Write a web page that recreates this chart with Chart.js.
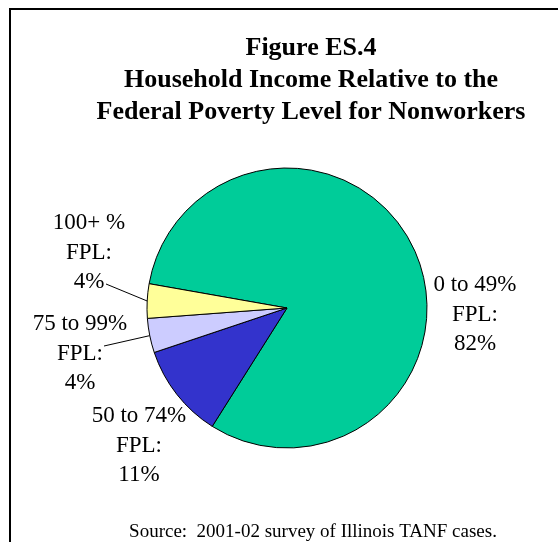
<!DOCTYPE html>
<html>
<head>
<meta charset="utf-8">
<script src="https://cdn.jsdelivr.net/npm/chart.js@4.4.0/dist/chart.umd.min.js"></script>
<style>
  html, body { margin: 0; padding: 0; background: #fff; }
  #wrap { width: 558px; height: 542px; }
</style>
</head>
<body>
<div id="wrap"><canvas id="fpl"></canvas></div>
<script>
// Dati: reddito familiare rispetto alla soglia di povertà federale
const categories = ['0 to 49%', '50 to 74%', '75 to 99%', '100+ %'];
const shares = [82, 11, 4, 4];
const sliceColors = ['#00CC99', '#3333CC', '#CCCCFF', '#FFFF99'];
const titleLines = ['Figure ES.4', 'Household Income Relative to the', 'Federal Poverty Level for Nonworkers'];
const sourceNote = 'Source:  2001-02 survey of Illinois TANF cases.';

// Posizione delle etichette (centro x, baseline prima riga) e attacco della linea guida
const labelPos = [
    { x: 475, y: 291 },
    { x: 139, y: 422 },
    { x: 80, y: 330, lead: { x: 104, y: 346 } },
    { x: 89, y: 229, lead: { x: 106, y: 284 } }
];

const serif = '"Liberation Serif", "Times New Roman", serif';

const decorPlugin = {
    id: 'decor',
    beforeDraw(chart) {
        const ctx = chart.ctx;
        ctx.save();
        ctx.fillStyle = '#fff';
        ctx.fillRect(0, 0, chart.width, chart.height);
        // cornice: solo lato superiore e sinistro
        ctx.strokeStyle = '#000';
        ctx.lineWidth = 2;
        ctx.beginPath();
        ctx.moveTo(558, 9);
        ctx.lineTo(10, 9);
        ctx.lineTo(10, 542);
        ctx.stroke();
        ctx.restore();
    },
    afterDraw(chart) {
        const ctx = chart.ctx;
        const arcs = chart.getDatasetMeta(0).data;
        ctx.save();
        ctx.fillStyle = '#000';
        ctx.textAlign = 'center';
        ctx.textBaseline = 'alphabetic';

        ctx.font = 'bold 26px ' + serif;
        titleLines.forEach((t, i) => ctx.fillText(t, 311, 55 + i * 32));

        ctx.font = '19px ' + serif;
        ctx.fillText(sourceNote, 313, 537);

        ctx.font = '23px ' + serif;
        categories.forEach((c, i) => {
            const p = labelPos[i];
            const lines = [c, 'FPL:', shares[i] + '%'];
            lines.forEach((t, j) => ctx.fillText(t, p.x, p.y + j * 29.5));
            if (p.lead) {
                const a = arcs[i];
                const mid = (a.startAngle + a.endAngle) / 2;
                ctx.strokeStyle = '#000';
                ctx.lineWidth = 1;
                ctx.beginPath();
                ctx.moveTo(p.lead.x, p.lead.y);
                ctx.lineTo(a.x + Math.cos(mid) * a.outerRadius, a.y + Math.sin(mid) * a.outerRadius);
                ctx.stroke();
            }
        });
        ctx.restore();
    }
};

new Chart(document.getElementById('fpl'), {
    type: 'pie',
    data: {
        labels: categories,
        datasets: [{
            data: shares,
            backgroundColor: sliceColors,
            borderColor: '#000',
            borderWidth: 1
        }]
    },
    options: {
        responsive: true,
        maintainAspectRatio: false,
        animation: false,
        rotation: 280,
        radius: 140,
        layout: { padding: { left: 147, right: 131, top: 168, bottom: 94 } },
        plugins: {
            legend: { display: false },
            title: { display: false },
            tooltip: { enabled: false }
        }
    },
    plugins: [decorPlugin]
});
</script>
</body>
</html>
